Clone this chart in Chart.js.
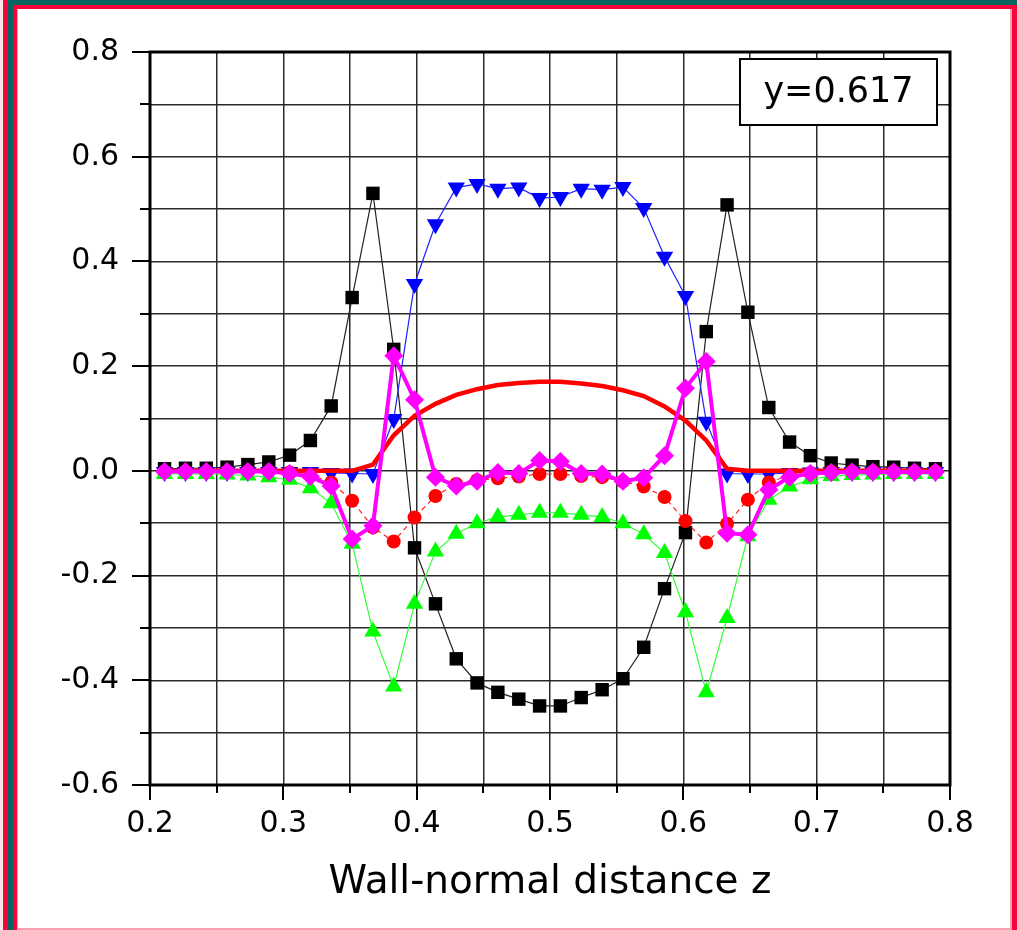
<!DOCTYPE html>
<html>
<head>
<meta charset="utf-8">
<script src="https://cdn.jsdelivr.net/npm/chart.js@4.4.1/dist/chart.umd.min.js"></script>
<style>
  html, body { margin: 0; padding: 0; background: #fff; }
  #wrap { position: relative; width: 1017px; height: 930px; overflow: hidden; background: #fff; }
  #wrap canvas { position: absolute; left: 0; top: 0; }
  .band { position: absolute; }
</style>
</head>
<body>
<div id="wrap">
  <canvas id="c" width="1017" height="930"></canvas>
  <!-- page frame -->
  <div class="band" style="left:0;top:0;width:1017px;height:5px;background:#07665e"></div>
  <div class="band" style="left:13px;top:5px;width:1004px;height:4px;background:#f5053c"></div>
  <div class="band" style="left:0;top:0;width:3px;height:930px;background:#fde6ea"></div>
  <div class="band" style="left:3px;top:0;width:5px;height:930px;background:#f5053c"></div>
  <div class="band" style="left:8px;top:0;width:5px;height:930px;background:#07665e"></div>
  <div class="band" style="left:13px;top:5px;width:4px;height:925px;background:#f5053c"></div>
  <div class="band" style="left:17px;top:9px;width:1px;height:921px;background:#f7a0b0"></div>
  <div class="band" style="left:1012px;top:5px;width:5px;height:925px;background:#f5053c"></div>
  <div class="band" style="left:1010px;top:9px;width:2px;height:921px;background:#f7a0b0"></div>
  <div class="band" style="left:17px;top:928px;width:995px;height:2px;background:#f7a0b0"></div>
</div>
<script>
// Wall-normal grid (cell centres)
const zGrid = [0.2109, 0.2266, 0.2422, 0.2578, 0.2734, 0.2891, 0.3047, 0.3203, 0.3359, 0.3516,
               0.3672, 0.3828, 0.3984, 0.4141, 0.4297, 0.4453, 0.4609, 0.4766, 0.4922, 0.5078,
               0.5234, 0.5391, 0.5547, 0.5703, 0.5859, 0.6016, 0.6172, 0.6328, 0.6484, 0.6641,
               0.6797, 0.6953, 0.7109, 0.7266, 0.7422, 0.7578, 0.7734, 0.7891];

const blackSquares = [0.004, 0.005, 0.005, 0.007, 0.012, 0.017, 0.030, 0.058, 0.124, 0.331,
                      0.530, 0.232, -0.147, -0.254, -0.359, -0.405, -0.423, -0.436, -0.449, -0.449,
                      -0.433, -0.418, -0.397, -0.337, -0.225, -0.118, 0.266, 0.508, 0.303, 0.121,
                      0.055, 0.029, 0.015, 0.011, 0.008, 0.007, 0.005, 0.004];

const blueTriangles = [-0.002, -0.002, -0.002, -0.002, -0.002, -0.002, -0.002, -0.002, -0.004, -0.005,
                       -0.006, 0.099, 0.357, 0.471, 0.541, 0.548, 0.539, 0.541, 0.521, 0.523,
                       0.539, 0.537, 0.542, 0.502, 0.409, 0.334, 0.094, -0.005, -0.006, -0.006,
                       -0.004, -0.003, -0.002, -0.002, -0.002, -0.002, -0.002, -0.002];

const redCurve = [0.000, 0.000, 0.000, 0.000, 0.000, 0.000, 0.000, 0.000, 0.000, 0.000,
                  0.012, 0.068, 0.105, 0.128, 0.145, 0.156, 0.164, 0.168, 0.170, 0.170,
                  0.167, 0.162, 0.154, 0.143, 0.123, 0.096, 0.058, 0.004, 0.000, 0.000,
                  0.000, 0.000, 0.000, 0.000, 0.000, 0.000, 0.000, 0.000];

const redCircles = [-0.001, -0.001, -0.001, -0.001, -0.001, -0.001, -0.003, -0.008, -0.022, -0.057,
                    -0.108, -0.135, -0.089, -0.048, -0.025, -0.018, -0.014, -0.011, -0.006, -0.006,
                    -0.010, -0.012, -0.020, -0.030, -0.050, -0.096, -0.137, -0.101, -0.055, -0.022,
                    -0.008, -0.004, -0.001, -0.001, -0.001, -0.001, -0.001, -0.001];

const greenTriangles = [-0.006, -0.006, -0.006, -0.007, -0.009, -0.012, -0.017, -0.033, -0.062, -0.139,
                        -0.307, -0.412, -0.254, -0.154, -0.120, -0.100, -0.088, -0.084, -0.080, -0.080,
                        -0.084, -0.088, -0.100, -0.121, -0.157, -0.270, -0.423, -0.281, -0.125, -0.055,
                        -0.030, -0.016, -0.010, -0.008, -0.007, -0.006, -0.006, -0.006];

const magentaDiamonds = [-0.001, -0.001, -0.001, -0.001, -0.001, -0.001, -0.005, -0.011, -0.029, -0.130,
                         -0.105, 0.220, 0.136, -0.012, -0.029, -0.020, -0.003, -0.005, 0.020, 0.018,
                         -0.005, -0.006, -0.020, -0.013, 0.029, 0.158, 0.209, -0.119, -0.122, -0.036,
                         -0.012, -0.005, -0.003, -0.002, -0.002, -0.002, -0.002, -0.002];

const xTickRange = [0.2, 0.8];
const yTickRange = [-0.6, 0.8];
const panelLabel = 'y=0.617';
const xTitle = 'Wall-normal distance z';

const FONT = '"DejaVu Sans", "Liberation Sans", Arial, sans-serif';

const pts = arr => zGrid.map((z, i) => ({ x: z, y: arr[i] }));

const isMajorX = v => Math.round(v * 100) % 10 === 0;
const isMajorY = v => Math.round(v * 10) % 2 === 0;

// frame box, major/minor tick marks and the panel label
const frameAndTicks = {
  id: 'frameAndTicks',
  afterDraw(chart) {
    const { ctx, chartArea: a, scales: { x, y } } = chart;
    ctx.save();
    ctx.strokeStyle = '#000';
    ctx.lineWidth = 2;
    ctx.beginPath();
    x.ticks.forEach(t => {
      const px = Math.round(x.getPixelForValue(t.value));
      const len = isMajorX(t.value) ? 15 : 8;
      ctx.moveTo(px, a.bottom);
      ctx.lineTo(px, a.bottom + len);
    });
    y.ticks.forEach(t => {
      const py = Math.round(y.getPixelForValue(t.value));
      const len = isMajorY(t.value) ? 18 : 10;
      ctx.moveTo(a.left, py);
      ctx.lineTo(a.left - len, py);
    });
    ctx.stroke();

    ctx.lineWidth = 3;
    ctx.strokeRect(a.left, a.top, a.right - a.left, a.bottom - a.top);

    // panel label box
    const bx = 740, by = 59, bw = 197, bh = 66;
    ctx.fillStyle = '#fff';
    ctx.fillRect(bx, by, bw, bh);
    ctx.lineWidth = 2;
    ctx.strokeRect(bx, by, bw, bh);
    ctx.fillStyle = '#000';
    ctx.font = '35px ' + FONT;
    ctx.textAlign = 'center';
    ctx.textBaseline = 'middle';
    ctx.fillText(panelLabel, bx + bw / 2, by + bh / 2 + 1);
    ctx.restore();
  }
};

new Chart(document.getElementById('c'), {
  type: 'line',
  data: {
    datasets: [
      {
        label: 'magenta', data: pts(magentaDiamonds), order: 0,
        borderColor: '#ff00ff', backgroundColor: '#ff00ff', borderWidth: 4,
        pointStyle: 'rectRot', pointRadius: 9.5, pointBorderWidth: 0
      },
      {
        label: 'redCurve', data: pts(redCurve), order: 1,
        borderColor: '#ff0000', borderWidth: 4.5, pointRadius: 0
      },
      {
        label: 'green', data: pts(greenTriangles), order: 2,
        borderColor: '#33ff33', backgroundColor: '#00ff00', borderWidth: 1.2,
        pointStyle: 'triangle', pointRadius: 10, pointBorderWidth: 0
      },
      {
        label: 'redCircles', data: pts(redCircles), order: 3,
        borderColor: '#ff2020', backgroundColor: '#ff0000', borderWidth: 1.2, borderDash: [5, 4],
        pointStyle: 'circle', pointRadius: 7, pointBorderWidth: 0
      },
      {
        label: 'blue', data: pts(blueTriangles), order: 4,
        borderColor: '#2020ff', backgroundColor: '#0000ff', borderWidth: 1.2,
        pointStyle: 'triangle', rotation: 180, pointRadius: 10, pointBorderWidth: 0
      },
      {
        label: 'black', data: pts(blackSquares), order: 5,
        borderColor: '#222', backgroundColor: '#000', borderWidth: 1.2,
        pointStyle: 'rect', pointRadius: 9.5, pointBorderWidth: 0
      }
    ]
  },
  options: {
    responsive: false,
    animation: false,
    devicePixelRatio: 1,
    layout: { padding: { left: 0, top: 52, right: 67, bottom: 0 } },
    plugins: { legend: { display: false }, tooltip: { enabled: false } },
    elements: { line: { tension: 0 } },
    scales: {
      x: {
        type: 'linear', min: xTickRange[0], max: xTickRange[1],
        border: { display: false },
        grid: { color: '#2a2a2a', lineWidth: 1.5, drawTicks: false },
        ticks: {
          stepSize: 0.05, maxTicksLimit: 30, padding: 21, color: '#000',
          font: { family: FONT, size: 30 },
          maxRotation: 0, autoSkip: false,
          callback: v => isMajorX(v) ? (Math.round(v * 10) / 10).toFixed(1) : ''
        },
        title: {
          display: true, text: xTitle, color: '#000',
          font: { family: FONT, size: 39 },
          padding: { top: 0, bottom: 24 }
        },
        afterFit(s) { s.height = 145; s.paddingLeft = 0; s.paddingRight = 0; }
      },
      y: {
        type: 'linear', min: yTickRange[0], max: yTickRange[1],
        border: { display: false },
        grid: { color: '#2a2a2a', lineWidth: 1.5, drawTicks: false },
        ticks: {
          stepSize: 0.1, maxTicksLimit: 30, padding: 31, color: '#000',
          font: { family: FONT, size: 30 },
          autoSkip: false,
          callback: v => isMajorY(v) ? (Math.round(v * 10) / 10).toFixed(1) : ''
        },
        afterFit(s) { s.width = 150; s.paddingTop = 0; s.paddingBottom = 0; }
      }
    }
  },
  plugins: [frameAndTicks]
});
</script>
</body>
</html>
